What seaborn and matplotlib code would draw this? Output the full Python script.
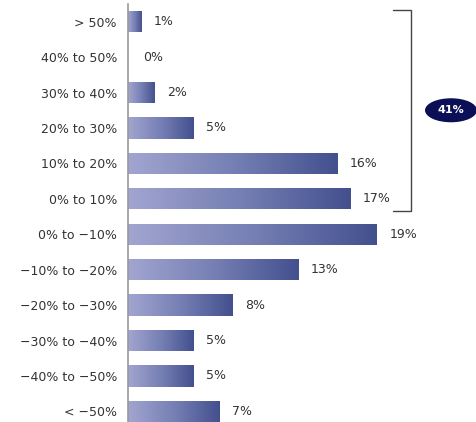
import matplotlib
matplotlib.use("Agg")
import matplotlib.pyplot as plt
import seaborn as sns
import numpy as np
import pandas as pd
from matplotlib.patches import Ellipse
from matplotlib.colors import LinearSegmentedColormap

categories = ["> 50%", "40% to 50%", "30% to 40%", "20% to 30%", "10% to 20%", "0% to 10%",
              "0% to \u221210%", "\u221210% to \u221220%", "\u221220% to \u221230%",
              "\u221230% to \u221240%", "\u221240% to \u221250%", "< \u221250%"]
values = [1, 0, 2, 5, 16, 17, 19, 13, 8, 5, 5, 7]
value_labels = ["1%", "0%", "2%", "5%", "16%", "17%", "19%", "13%", "8%", "5%", "5%", "7%"]
bracket_label = "41%"

sns.set_theme(style="white")
plt.rcParams['font.family'] = ['DejaVu Sans']

df = pd.DataFrame({"cat": categories, "val": values})

fig = plt.figure(figsize=(4.77, 4.22), dpi=100)
ax = fig.add_axes([128/477, 0, 349/477, 418/422])
sns.barplot(data=df, y="cat", x="val", orient="h", ax=ax, width=0.6,
            color="#6a72a8", edgecolor="none", saturation=1)

cmap = LinearSegmentedColormap.from_list("g", ["#a2a5d0", "#7680b4", "#43508e"])
grad = np.linspace(0, 1, 256).reshape(1, -1)
for p in ax.patches:
    x0, y0 = p.get_x(), p.get_y()
    w, h = p.get_width(), p.get_height()
    if w <= 0:
        continue
    p.set_facecolor("none")
    im = ax.imshow(grad, cmap=cmap, aspect="auto", extent=(x0, x0 + w, y0 + h, y0),
                   zorder=2, interpolation="bicubic")
    im.set_clip_path(p)

ax.set_xlim(0, 349/13.1)
ax.set_ylim(11.3, -0.5)

for i, (v, lab) in enumerate(zip(values, value_labels)):
    off = 0.95 if v > 0 else 1.15
    ax.text(v + off, i, lab, va="center", ha="left", fontsize=9, color="#333333")

ax.set_xlabel("")
ax.set_ylabel("")
ax.set_xticks([])
ax.tick_params(axis="y", length=0, pad=8, labelsize=9, labelcolor="#333333")
for s in ["top", "right", "bottom"]:
    ax.spines[s].set_visible(False)
ax.spines["left"].set_color("#999999")
ax.spines["left"].set_linewidth(1.2)

# bracket
bx = (411 - 128) / 13.1
bl = (393 - 128) / 13.1
ytop, ybot = -0.34, 5.34
ax.plot([bl, bx, bx, bl], [ytop, ytop, ybot, ybot], color="#444444", lw=1.0,
        clip_on=False, solid_joinstyle="miter")
ell = Ellipse(((451 - 128) / 13.1, 2.5), 52 / 13.1, 24 / 35.4, facecolor="#0b0f55",
              edgecolor="none", clip_on=False, zorder=5)
ax.add_patch(ell)
ax.text((451 - 128) / 13.1, 2.5, bracket_label, ha="center", va="center", color="white",
        fontsize=8, fontweight="bold", zorder=6, clip_on=False)

fig.savefig("out.png", dpi=100)
